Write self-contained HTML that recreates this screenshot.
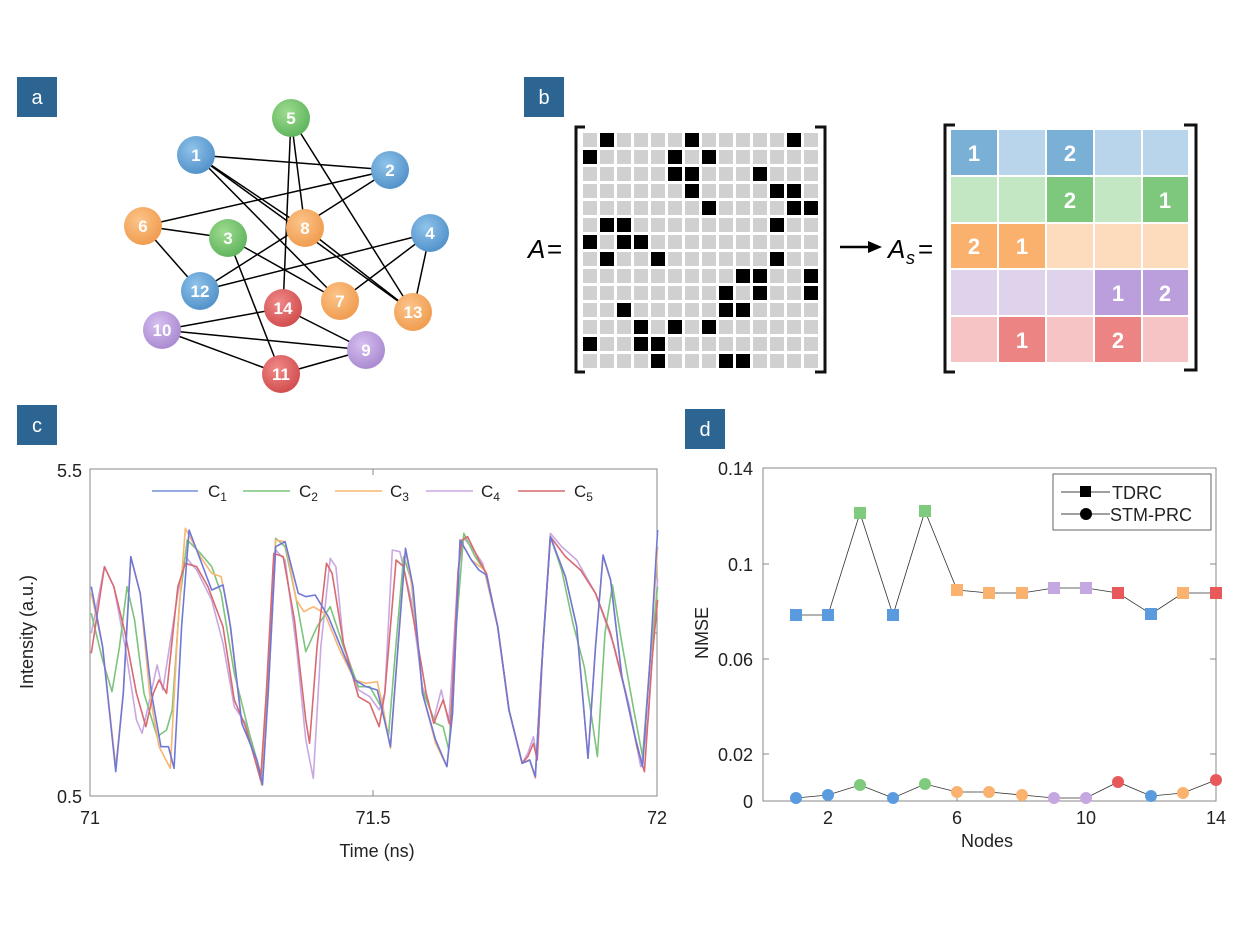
<!DOCTYPE html>
<html><head><meta charset="utf-8"><style>
body{margin:0;background:#fff;}
svg text{font-family:"Liberation Sans",sans-serif;}
</style></head><body>
<svg width="1239" height="946" viewBox="0 0 1239 946" xmlns="http://www.w3.org/2000/svg">
<defs>
<pattern id="gp" x="583" y="133" width="17" height="17" patternUnits="userSpaceOnUse"><rect x="0" y="0" width="14" height="14" fill="#d0d0d0"/></pattern>
<radialGradient id="gb" cx="0.4" cy="0.35" r="0.7"><stop offset="0" stop-color="#8fc3ea"/><stop offset="1" stop-color="#4f8fc8"/></radialGradient>
<radialGradient id="gg" cx="0.4" cy="0.35" r="0.7"><stop offset="0" stop-color="#9edc8e"/><stop offset="1" stop-color="#5cb25c"/></radialGradient>
<radialGradient id="go" cx="0.4" cy="0.35" r="0.7"><stop offset="0" stop-color="#fcc48a"/><stop offset="1" stop-color="#ef9a4c"/></radialGradient>
<radialGradient id="gu" cx="0.4" cy="0.35" r="0.7"><stop offset="0" stop-color="#d6bff0"/><stop offset="1" stop-color="#a787cf"/></radialGradient>
<radialGradient id="gr" cx="0.4" cy="0.35" r="0.7"><stop offset="0" stop-color="#f08a8a"/><stop offset="1" stop-color="#d04a4a"/></radialGradient>
</defs>

<!-- panel labels -->
<rect x="17" y="77" width="40" height="40" fill="#2c6592"/><text x="37" y="104" font-size="20" fill="#fff" text-anchor="middle">a</text>
<rect x="524" y="77" width="40" height="40" fill="#2c6592"/><text x="544" y="104" font-size="20" fill="#fff" text-anchor="middle">b</text>
<rect x="17" y="405" width="40" height="40" fill="#2c6592"/><text x="37" y="432" font-size="20" fill="#fff" text-anchor="middle">c</text>
<rect x="685" y="409" width="40" height="40" fill="#2c6592"/><text x="705" y="436" font-size="20" fill="#fff" text-anchor="middle">d</text>

<!-- panel a graph -->
<g stroke="#000" stroke-width="1.5">
<line x1="196" y1="155" x2="390" y2="170"/><line x1="196" y1="155" x2="305" y2="228"/><line x1="196" y1="155" x2="340" y2="301"/><line x1="196" y1="155" x2="413" y2="312"/>
<line x1="291" y1="118" x2="283" y2="308"/><line x1="291" y1="118" x2="305" y2="228"/><line x1="291" y1="118" x2="413" y2="312"/>
<line x1="390" y1="170" x2="143" y2="226"/><line x1="390" y1="170" x2="200" y2="291"/>
<line x1="143" y1="226" x2="228" y2="238"/><line x1="143" y1="226" x2="200" y2="291"/>
<line x1="228" y1="238" x2="340" y2="301"/><line x1="228" y1="238" x2="281" y2="374"/>
<line x1="430" y1="233" x2="200" y2="291"/><line x1="430" y1="233" x2="340" y2="301"/><line x1="430" y1="233" x2="413" y2="312"/>
<line x1="305" y1="228" x2="413" y2="312"/>
<line x1="283" y1="308" x2="162" y2="330"/><line x1="283" y1="308" x2="366" y2="350"/>
<line x1="162" y1="330" x2="366" y2="350"/><line x1="162" y1="330" x2="281" y2="374"/><line x1="281" y1="374" x2="366" y2="350"/>
</g>
<g font-size="17" font-weight="bold" fill="#fff" text-anchor="middle" stroke="none">
<circle cx="196" cy="155" r="19" fill="url(#gb)"/><text x="196" y="161">1</text>
<circle cx="390" cy="170" r="19" fill="url(#gb)"/><text x="390" y="176">2</text>
<circle cx="291" cy="118" r="19" fill="url(#gg)"/><text x="291" y="124">5</text>
<circle cx="143" cy="226" r="19" fill="url(#go)"/><text x="143" y="232">6</text>
<circle cx="228" cy="238" r="19" fill="url(#gg)"/><text x="228" y="244">3</text>
<circle cx="305" cy="228" r="19" fill="url(#go)"/><text x="305" y="234">8</text>
<circle cx="430" cy="233" r="19" fill="url(#gb)"/><text x="430" y="239">4</text>
<circle cx="200" cy="291" r="19" fill="url(#gb)"/><text x="200" y="297">12</text>
<circle cx="283" cy="308" r="19" fill="url(#gr)"/><text x="283" y="314">14</text>
<circle cx="340" cy="301" r="19" fill="url(#go)"/><text x="340" y="307">7</text>
<circle cx="413" cy="312" r="19" fill="url(#go)"/><text x="413" y="318">13</text>
<circle cx="162" cy="330" r="19" fill="url(#gu)"/><text x="162" y="336">10</text>
<circle cx="366" cy="350" r="19" fill="url(#gu)"/><text x="366" y="356">9</text>
<circle cx="281" cy="374" r="19" fill="url(#gr)"/><text x="281" y="380">11</text>
</g>

<!-- panel b matrix A -->
<text x="528" y="258" font-family="Liberation Serif,serif" font-size="26" font-style="italic">A</text>
<text x="547" y="258" font-family="Liberation Serif,serif" font-size="26">=</text>
<path d="M585,127 H576 V372 H585" fill="none" stroke="#111" stroke-width="3"/>
<path d="M815,127 H825 V372 H815" fill="none" stroke="#111" stroke-width="3"/>
<rect x="583" y="133" width="238" height="238" fill="url(#gp)"/>
<g fill="#000" transform="translate(583,133)">
<rect x="17" y="0" width="14" height="14"/><rect x="102" y="0" width="14" height="14"/><rect x="204" y="0" width="14" height="14"/>
<rect x="0" y="17" width="14" height="14"/><rect x="85" y="17" width="14" height="14"/><rect x="119" y="17" width="14" height="14"/>
<rect x="85" y="34" width="14" height="14"/><rect x="102" y="34" width="14" height="14"/><rect x="170" y="34" width="14" height="14"/>
<rect x="102" y="51" width="14" height="14"/><rect x="187" y="51" width="14" height="14"/><rect x="204" y="51" width="14" height="14"/>
<rect x="119" y="68" width="14" height="14"/><rect x="204" y="68" width="14" height="14"/><rect x="221" y="68" width="14" height="14"/>
<rect x="17" y="85" width="14" height="14"/><rect x="34" y="85" width="14" height="14"/><rect x="187" y="85" width="14" height="14"/>
<rect x="0" y="102" width="14" height="14"/><rect x="34" y="102" width="14" height="14"/><rect x="51" y="102" width="14" height="14"/>
<rect x="17" y="119" width="14" height="14"/><rect x="68" y="119" width="14" height="14"/><rect x="187" y="119" width="14" height="14"/>
<rect x="153" y="136" width="14" height="14"/><rect x="170" y="136" width="14" height="14"/><rect x="221" y="136" width="14" height="14"/>
<rect x="136" y="153" width="14" height="14"/><rect x="170" y="153" width="14" height="14"/><rect x="221" y="153" width="14" height="14"/>
<rect x="34" y="170" width="14" height="14"/><rect x="136" y="170" width="14" height="14"/><rect x="153" y="170" width="14" height="14"/>
<rect x="51" y="187" width="14" height="14"/><rect x="85" y="187" width="14" height="14"/><rect x="119" y="187" width="14" height="14"/>
<rect x="0" y="204" width="14" height="14"/><rect x="51" y="204" width="14" height="14"/><rect x="68" y="204" width="14" height="14"/>
<rect x="68" y="221" width="14" height="14"/><rect x="136" y="221" width="14" height="14"/><rect x="153" y="221" width="14" height="14"/>
</g>
<line x1="840" y1="247" x2="872" y2="247" stroke="#000" stroke-width="2.5"/><path d="M868,241 L882,247 L868,253 Z" fill="#000"/>
<text x="888" y="258" font-family="Liberation Serif,serif" font-size="26" font-style="italic">A</text>
<text x="906" y="264" font-family="Liberation Serif,serif" font-size="18" font-style="italic">s</text>
<text x="918" y="258" font-family="Liberation Serif,serif" font-size="26">=</text>

<!-- As matrix -->
<path d="M955,125 H945 V372 H955" fill="none" stroke="#111" stroke-width="3"/>
<path d="M1184,125 H1196 V370 H1184" fill="none" stroke="#111" stroke-width="3"/>
<g>
<rect x="951" y="130" width="46" height="45" fill="#7ab0d6"/><rect x="999" y="130" width="46" height="45" fill="#b9d5eb"/><rect x="1047" y="130" width="46" height="45" fill="#7ab0d6"/><rect x="1095" y="130" width="46" height="45" fill="#b9d5eb"/><rect x="1143" y="130" width="45" height="45" fill="#b9d5eb"/>
<rect x="951" y="177" width="46" height="45" fill="#c3e6c3"/><rect x="999" y="177" width="46" height="45" fill="#c3e6c3"/><rect x="1047" y="177" width="46" height="45" fill="#7ec87e"/><rect x="1095" y="177" width="46" height="45" fill="#c3e6c3"/><rect x="1143" y="177" width="45" height="45" fill="#7ec87e"/>
<rect x="951" y="224" width="46" height="44" fill="#fbb16e"/><rect x="999" y="224" width="46" height="44" fill="#fbb16e"/><rect x="1047" y="224" width="46" height="44" fill="#fddbbd"/><rect x="1095" y="224" width="46" height="44" fill="#fddbbd"/><rect x="1143" y="224" width="45" height="44" fill="#fddbbd"/>
<rect x="951" y="270" width="46" height="45" fill="#dfd3ec"/><rect x="999" y="270" width="46" height="45" fill="#dfd3ec"/><rect x="1047" y="270" width="46" height="45" fill="#dfd3ec"/><rect x="1095" y="270" width="46" height="45" fill="#bb9edc"/><rect x="1143" y="270" width="45" height="45" fill="#bb9edc"/>
<rect x="951" y="317" width="46" height="45" fill="#f6c4c4"/><rect x="999" y="317" width="46" height="45" fill="#ec8484"/><rect x="1047" y="317" width="46" height="45" fill="#f6c4c4"/><rect x="1095" y="317" width="46" height="45" fill="#ec8484"/><rect x="1143" y="317" width="45" height="45" fill="#f6c4c4"/>
</g>
<g font-size="22" font-weight="bold" fill="#fff" text-anchor="middle">
<text x="974" y="161">1</text><text x="1070" y="161">2</text>
<text x="1070" y="208">2</text><text x="1165" y="208">1</text>
<text x="974" y="254">2</text><text x="1022" y="254">1</text>
<text x="1118" y="301">1</text><text x="1165" y="301">2</text>
<text x="1022" y="348">1</text><text x="1118" y="348">2</text>
</g>

<!-- panel c -->
<rect x="90" y="469" width="567" height="327" fill="none" stroke="#888" stroke-width="1"/>
<line x1="373" y1="796" x2="373" y2="790" stroke="#888"/><line x1="373" y1="469" x2="373" y2="475" stroke="#888"/>
<line x1="657" y1="633" x2="651" y2="633" stroke="#888"/>
<g font-size="18" fill="#222">
<text x="82" y="477" text-anchor="end">5.5</text><text x="82" y="803" text-anchor="end">0.5</text>
<text x="90" y="824" text-anchor="middle">71</text><text x="373" y="824" text-anchor="middle">71.5</text><text x="657" y="824" text-anchor="middle">72</text>
<text x="377" y="857" text-anchor="middle">Time (ns)</text>
<text transform="translate(33,632) rotate(-90)" text-anchor="middle">Intensity (a.u.)</text>
</g>
<g font-size="17" fill="#222">
<line x1="152" y1="491" x2="198" y2="491" stroke="#7290dc" stroke-width="1.5"/><text x="208" y="497">C<tspan font-size="12" dy="4">1</tspan></text>
<line x1="243" y1="491" x2="290" y2="491" stroke="#7cc47c" stroke-width="1.5"/><text x="299" y="497">C<tspan font-size="12" dy="4">2</tspan></text>
<line x1="335" y1="491" x2="382" y2="491" stroke="#f9b572" stroke-width="1.5"/><text x="390" y="497">C<tspan font-size="12" dy="4">3</tspan></text>
<line x1="426" y1="491" x2="473" y2="491" stroke="#c9a8e2" stroke-width="1.5"/><text x="481" y="497">C<tspan font-size="12" dy="4">4</tspan></text>
<line x1="518" y1="491" x2="565" y2="491" stroke="#d86a70" stroke-width="1.5"/><text x="574" y="497">C<tspan font-size="12" dy="4">5</tspan></text>
</g>
<g transform="translate(80,460) scale(0.3763,0.3333)" fill="none" stroke-width="1.6" stroke-linejoin="round">
<polyline vector-effect="non-scaling-stroke" stroke="#c9a8e2" points="30,520 65,320 90,380 120,560 150,780 165,820 185,720 205,615 220,690 260,400 280,290 310,330 350,420 380,550 410,740 440,790 470,900 485,960 500,700 520,270 545,300 575,560 600,840 620,955 640,560 665,295 680,320 700,550 740,690 770,710 795,750 810,700 830,270 850,275 880,420 910,680 940,780 960,690 980,790 1005,330 1020,235 1040,260 1070,310 1110,500 1140,750 1175,910 1190,880 1205,830 1215,900 1230,560 1250,220 1280,260 1320,300 1370,400 1420,560 1460,740 1490,920 1510,780 1535,355"/>
<polyline vector-effect="non-scaling-stroke" stroke="#7cc47c" points="30,460 60,600 85,695 105,560 125,380 145,480 170,700 205,830 230,810 245,750 265,420 285,240 320,280 350,320 375,400 410,640 450,820 485,960 500,650 520,235 545,260 575,420 600,575 630,500 665,440 700,560 740,680 770,680 800,740 820,825 840,550 860,290 880,360 910,690 945,790 965,800 980,870 1000,500 1020,220 1050,290 1080,340 1110,500 1140,750 1175,910 1195,900 1210,950 1225,650 1250,230 1280,330 1310,490 1340,620 1375,890 1395,520 1415,375 1440,550 1470,740 1495,890 1515,600 1535,380"/>
<polyline vector-effect="non-scaling-stroke" stroke="#f9b572" points="30,400 60,560 95,920 115,700 135,290 160,400 185,700 210,860 240,925 260,500 280,205 320,290 350,340 375,350 395,460 430,790 470,900 482,975 500,700 520,240 545,245 575,420 595,455 620,440 650,460 690,570 730,660 760,670 790,665 805,740 825,865 845,560 865,270 885,400 910,700 945,850 975,920 990,760 1010,240 1040,300 1075,330 1110,500 1140,750 1175,910 1195,900 1210,955 1225,650 1250,230 1290,350 1320,500 1350,895 1370,560 1390,290 1410,360 1440,650 1475,830 1495,920 1515,600 1535,260"/>
<polyline vector-effect="non-scaling-stroke" stroke="#d86a70" points="30,580 65,320 90,380 120,520 150,700 175,800 195,700 210,660 230,700 260,380 280,310 310,320 340,380 380,500 410,720 440,800 465,900 480,960 495,700 515,280 540,290 570,480 600,780 610,850 630,560 655,310 670,340 700,550 740,710 770,730 795,800 810,700 840,300 860,320 890,500 920,700 940,790 965,720 985,800 1005,330 1015,240 1030,230 1060,300 1080,340 1110,500 1140,750 1175,910 1190,890 1205,850 1215,900 1230,560 1250,230 1290,290 1330,330 1370,400 1410,520 1450,700 1480,860 1500,935 1520,600 1535,420"/>
<polyline vector-effect="non-scaling-stroke" stroke="#6f78d8" points="30,380 60,560 95,935 115,700 135,290 160,400 190,700 215,860 235,860 250,925 270,500 290,210 320,300 350,390 380,375 400,500 430,790 470,900 485,975 500,700 520,260 545,245 580,400 600,410 625,405 660,470 700,580 730,660 760,680 790,690 805,760 825,860 845,560 865,265 885,380 910,700 945,840 975,920 990,760 1010,240 1040,300 1060,330 1080,345 1110,500 1140,750 1175,910 1195,900 1210,950 1225,650 1250,230 1290,350 1320,500 1350,895 1370,560 1390,285 1410,360 1440,650 1475,830 1495,920 1515,600 1535,210"/>
</g>

<!-- panel d -->
<rect x="763" y="468" width="453" height="333" fill="none" stroke="#888" stroke-width="1"/>
<g stroke="#888">
<line x1="763" y1="754" x2="769" y2="754"/><line x1="763" y1="659" x2="769" y2="659"/><line x1="763" y1="564" x2="769" y2="564"/>
<line x1="1216" y1="754" x2="1210" y2="754"/><line x1="1216" y1="659" x2="1210" y2="659"/><line x1="1216" y1="564" x2="1210" y2="564"/>
<line x1="828" y1="801" x2="828" y2="795"/><line x1="957" y1="801" x2="957" y2="795"/><line x1="1086" y1="801" x2="1086" y2="795"/>
</g>
<g font-size="18" fill="#222">
<text x="753" y="475" text-anchor="end">0.14</text><text x="753" y="571" text-anchor="end">0.1</text><text x="753" y="666" text-anchor="end">0.06</text><text x="753" y="761" text-anchor="end">0.02</text><text x="753" y="808" text-anchor="end">0</text>
<text x="828" y="824" text-anchor="middle">2</text><text x="957" y="824" text-anchor="middle">6</text><text x="1086" y="824" text-anchor="middle">10</text><text x="1216" y="824" text-anchor="middle">14</text>
<text x="987" y="847" text-anchor="middle">Nodes</text>
<text transform="translate(708,633) rotate(-90)" text-anchor="middle">NMSE</text>
</g>
<polyline fill="none" stroke="#333" stroke-width="0.8" points="796,615 828,615 860,513 893,615 925,511 957,590 989,593 1022,593 1054,588 1086,588 1118,593 1151,614 1183,593 1216,593"/>
<polyline fill="none" stroke="#333" stroke-width="0.8" points="796,798 828,795 860,785 893,798 925,784 957,792 989,792 1022,795 1054,798 1086,798 1118,782 1151,796 1183,793 1216,780"/>
<g>
<rect x="790" y="609" width="12" height="12" fill="#5a9be0"/><rect x="822" y="609" width="12" height="12" fill="#5a9be0"/><rect x="854" y="507" width="12" height="12" fill="#7ecb7e"/><rect x="887" y="609" width="12" height="12" fill="#5a9be0"/><rect x="919" y="505" width="12" height="12" fill="#7ecb7e"/><rect x="951" y="584" width="12" height="12" fill="#fbb26f"/><rect x="983" y="587" width="12" height="12" fill="#fbb26f"/><rect x="1016" y="587" width="12" height="12" fill="#fbb26f"/><rect x="1048" y="582" width="12" height="12" fill="#c5a8e2"/><rect x="1080" y="582" width="12" height="12" fill="#c5a8e2"/><rect x="1112" y="587" width="12" height="12" fill="#e85a5a"/><rect x="1145" y="608" width="12" height="12" fill="#5a9be0"/><rect x="1177" y="587" width="12" height="12" fill="#fbb26f"/><rect x="1210" y="587" width="12" height="12" fill="#e85a5a"/>
<circle cx="796" cy="798" r="6" fill="#5a9be0"/><circle cx="828" cy="795" r="6" fill="#5a9be0"/><circle cx="860" cy="785" r="6" fill="#7ecb7e"/><circle cx="893" cy="798" r="6" fill="#5a9be0"/><circle cx="925" cy="784" r="6" fill="#7ecb7e"/><circle cx="957" cy="792" r="6" fill="#fbb26f"/><circle cx="989" cy="792" r="6" fill="#fbb26f"/><circle cx="1022" cy="795" r="6" fill="#fbb26f"/><circle cx="1054" cy="798" r="6" fill="#c5a8e2"/><circle cx="1086" cy="798" r="6" fill="#c5a8e2"/><circle cx="1118" cy="782" r="6" fill="#e85a5a"/><circle cx="1151" cy="796" r="6" fill="#5a9be0"/><circle cx="1183" cy="793" r="6" fill="#fbb26f"/><circle cx="1216" cy="780" r="6" fill="#e85a5a"/>
</g>
<rect x="1053" y="474" width="158" height="56" fill="#fff" stroke="#666" stroke-width="1"/>
<line x1="1061" y1="492" x2="1110" y2="492" stroke="#000" stroke-width="0.8"/><rect x="1080" y="486" width="11" height="11" fill="#000"/>
<line x1="1061" y1="514" x2="1110" y2="514" stroke="#000" stroke-width="0.8"/><circle cx="1086" cy="514" r="6" fill="#000"/>
<g font-size="18" fill="#222"><text x="1112" y="499">TDRC</text><text x="1110" y="521">STM-PRC</text></g>
</svg>
</body></html>
